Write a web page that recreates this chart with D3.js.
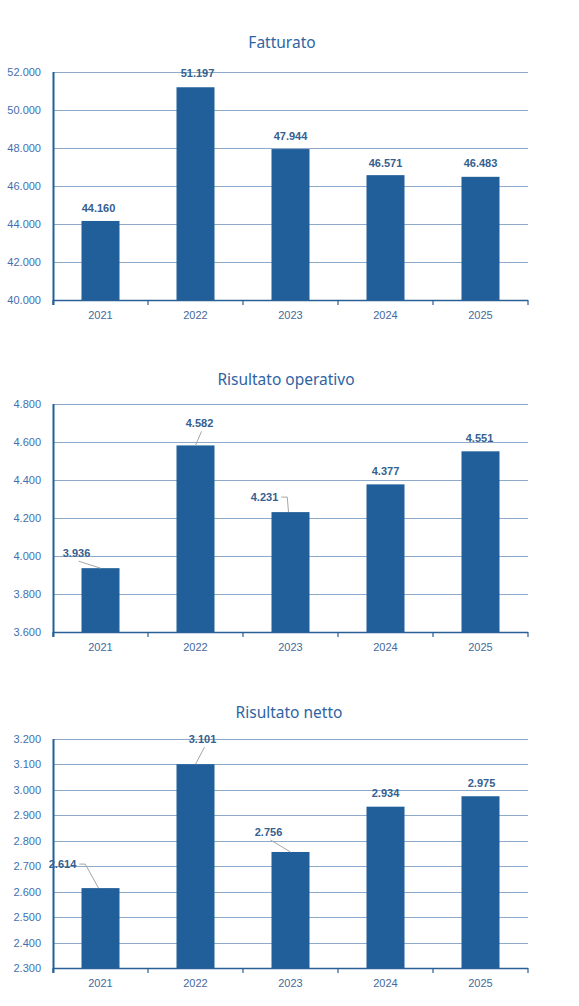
<!DOCTYPE html>
<html lang="it">
  <head>
    <title>Fatturato e risultati</title>
    <meta charset="utf-8">
    <script src="https://cdn.jsdelivr.net/npm/d3@7/dist/d3.min.js"></script>
    <style>
      body { margin: 0; background: #fff; }
      svg text { font-family: "Liberation Sans", Arial, sans-serif; }
      .title { font-family: "Noto Sans", sans-serif !important; font-size: 15.5px; fill: #2f64a3; }
      .grid line { stroke: #8eaacb; stroke-width: 1; }
      .ytick { font-size: 11px; fill: #3f6fae; }
      .xtick { font-size: 11px; fill: #45699b; }
      .val { font-size: 11px; font-weight: bold; fill: #35608f; }
      .leader { stroke: #a6a6a6; fill: none; stroke-width: 1; }
    </style>
  </head>
  <body>
    <div id="chart"></div>
    <script>
      // dati
      var years = ["2021", "2022", "2023", "2024", "2025"];

      var fatturato = [44160, 51197, 47944, 46571, 46483];
      var risultatoOperativo = [3936, 4582, 4231, 4377, 4551];
      var risultatoNetto = [2614, 3101, 2756, 2934, 2975];

      var fatturatoTicks = [40000, 42000, 44000, 46000, 48000, 50000, 52000];
      var operativoTicks = [3600, 3800, 4000, 4200, 4400, 4600, 4800];
      var nettoTicks = [2300, 2400, 2500, 2600, 2700, 2800, 2900, 3000, 3100, 3200];

      // label placement (px from bar top centre) and leader style
      var fatturatoLabels = [[-2, -9, ""], [2, -10, ""], [0, -9, ""], [0, -8, ""], [0, -10, ""]];
      var operativoLabels = [[-24, -11, "below"], [4, -18, "below"], [-26, -11, "elbow"], [0, -9, ""], [-1, -9, ""]];
      var nettoLabels = [[-38, -20, "elbow"], [7, -21, "below"], [-22, -16, "below"], [0, -10, ""], [1, -9, ""]];

      var it = d3.formatLocale({decimal: ",", thousands: ".", grouping: [3], currency: ["€", ""]});
      var fmt = it.format(",d");

      var W = 579, H = 1006;
      var svg = d3.select("#chart").append("svg")
        .attr("width", W).attr("height", H);

      var left = 53, right = 528;

      drawChart({title: "Fatturato", titleX: 282, titleY: 48, top: 72, bottom: 300,
                 values: fatturato, ticks: fatturatoTicks, labels: fatturatoLabels});
      drawChart({title: "Risultato operativo", titleX: 286, titleY: 385, top: 404, bottom: 632,
                 values: risultatoOperativo, ticks: operativoTicks, labels: operativoLabels});
      drawChart({title: "Risultato netto", titleX: 289, titleY: 718, top: 739, bottom: 968,
                 values: risultatoNetto, ticks: nettoTicks, labels: nettoLabels});

      function drawChart(c) {
        var g = svg.append("g");

        var x = d3.scaleBand().domain(years).range([left, right])
          .paddingInner(0.6).paddingOuter(0.3);
        var y = d3.scaleLinear()
          .domain([c.ticks[0], c.ticks[c.ticks.length - 1]])
          .range([c.bottom, c.top]);

        g.append("text").attr("class", "title")
          .attr("x", c.titleX).attr("y", c.titleY)
          .attr("text-anchor", "middle")
          .text(c.title);

        // gridlines
        g.append("g").attr("class", "grid")
          .selectAll("line").data(c.ticks.slice(1)).enter()
          .append("line")
          .attr("x1", left).attr("x2", right)
          .attr("y1", function(d) { return Math.round(y(d)) + 0.5; })
          .attr("y2", function(d) { return Math.round(y(d)) + 0.5; });

        // y axis labels
        var ya = g.append("g").attr("transform", "translate(" + left + ",0)")
          .call(d3.axisLeft(y).tickValues(c.ticks).tickFormat(fmt).tickSize(0).tickPadding(12));
        ya.select(".domain").remove();
        ya.selectAll("text").attr("class", "ytick").attr("fill", null).attr("font-family", null).attr("font-size", null);

        // bars
        g.selectAll("rect.bar").data(c.values).enter()
          .append("rect").attr("class", "bar")
          .attr("x", function(d, i) { return x(years[i]); })
          .attr("width", x.bandwidth())
          .attr("y", function(d) { return y(d); })
          .attr("height", function(d) { return c.bottom - y(d); })
          .attr("fill", "#215f9a");

        // axes lines
        g.append("line")
          .attr("x1", left).attr("x2", right)
          .attr("y1", c.bottom + 0.5).attr("y2", c.bottom + 0.5)
          .attr("stroke", "#2a5f96").attr("stroke-width", 1.5);
        g.append("line")
          .attr("x1", left + 0.5).attr("x2", left + 0.5)
          .attr("y1", c.top).attr("y2", c.bottom + 5)
          .attr("stroke", "#215f9a").attr("stroke-width", 2);

        // category boundary ticks
        var bounds = years.map(function(d) { return x(d) - x.step() * 0.3; }).concat([right]);
        g.selectAll("line.btick").data(bounds).enter()
          .append("line").attr("class", "btick")
          .attr("x1", function(d) { return d; }).attr("x2", function(d) { return d; })
          .attr("y1", c.bottom).attr("y2", c.bottom + 5)
          .attr("stroke", "#2a5f96").attr("stroke-width", 1.2);

        // x labels
        g.selectAll("text.xtick").data(years).enter()
          .append("text").attr("class", "xtick")
          .attr("x", function(d) { return x(d) + x.bandwidth() / 2; })
          .attr("y", c.bottom + 19)
          .attr("text-anchor", "middle")
          .text(function(d) { return d; });

        // value labels + leaders
        c.values.forEach(function(v, i) {
          var bx = x(years[i]) + x.bandwidth() / 2, by = y(v);
          var lab = c.labels[i];
          var lx = bx + lab[0], ly = by + lab[1];
          var t = g.append("text").attr("class", "val")
            .attr("x", lx).attr("y", ly)
            .attr("text-anchor", "middle")
            .text(fmt(v));
          if (lab[2] == "below") {
            g.append("path").attr("class", "leader")
              .attr("d", "M" + (lx + 2) + "," + (ly + 4) + "L" + bx + "," + by);
          } else if (lab[2] == "elbow") {
            var w = t.node().getComputedTextLength();
            var sx = lx + w / 2 + 3, sy = ly - 4;
            g.append("path").attr("class", "leader")
              .attr("d", "M" + sx + "," + sy + "H" + (sx + 6) + "L" + (bx - 2) + "," + by);
          }
        });
      }
    </script>
  </body>
</html>
